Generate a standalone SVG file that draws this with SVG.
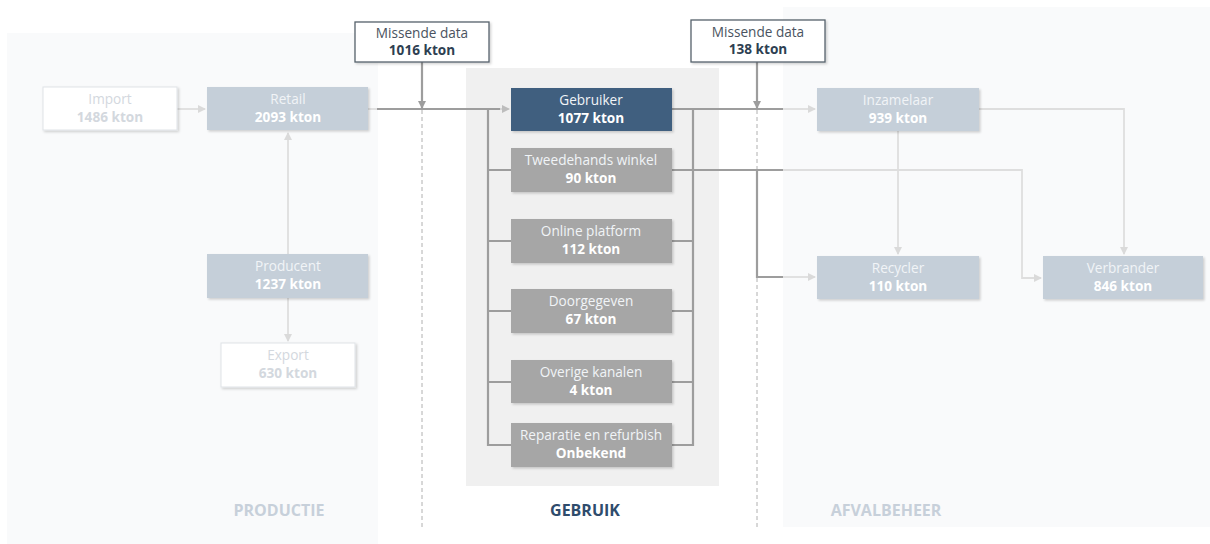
<svg xmlns="http://www.w3.org/2000/svg" width="1210" height="544" viewBox="0 0 1210 544">
<defs>
<style>
text{font-family:"Open Sans","Noto Sans","Liberation Sans",sans-serif;font-size:13.6px;text-anchor:middle}
.b{font-weight:bold}
.lt{fill:#c5cfd9}
.gr{fill:#a6a6a6}
.dk{fill:#3f5f7f}
.wt{fill:#ffffff;stroke:#dfe3e7;stroke-width:1}
.md{fill:#ffffff;stroke:#56616c;stroke-width:1.3}
.tw{fill:#ffffff}
.tl{fill:#f1f4f7}
.ti{fill:#d3d8de}
.c1{fill:none;stroke:#9d9d9d;stroke-width:2.2}
.c2{fill:none;stroke:#dedede;stroke-width:1.8}
.dash{fill:none;stroke:#b0b0b0;stroke-width:1;stroke-dasharray:4 3}
.sec{font-size:16px;font-weight:bold}
</style>
<filter id="sh" x="-5%" y="-10%" width="112%" height="130%">
<feDropShadow dx="1.5" dy="1.5" stdDeviation="1" flood-color="#000" flood-opacity="0.18"/>
</filter>
<marker id="ad" markerWidth="8" markerHeight="8" refX="7" refY="4" orient="auto" markerUnits="userSpaceOnUse">
<path d="M0,0 L8,4 L0,8 z" fill="#9d9d9d"/>
</marker>
<marker id="al" markerWidth="8" markerHeight="8" refX="7" refY="4" orient="auto" markerUnits="userSpaceOnUse">
<path d="M0,0 L8,4 L0,8 z" fill="#dadada"/>
</marker>
<marker id="am" markerWidth="8" markerHeight="8" refX="7" refY="4" orient="auto" markerUnits="userSpaceOnUse">
<path d="M0,0 L8,4 L0,8 z" fill="#bdbdbd"/>
</marker>
</defs>
<rect width="1210" height="544" fill="#ffffff"/>
<g id="panels">
<rect x="7" y="33" width="371" height="511" fill="#f9fafb"/>
<rect x="783" y="7" width="427" height="520" fill="#f9fafb"/>
<rect x="466" y="68" width="253" height="418" fill="#f0f0f0"/>
</g>
<g id="connectors">
<line class="dash" x1="422" y1="110" x2="422" y2="530"/>
<line class="dash" x1="757" y1="110" x2="757" y2="530"/>
<line class="c2" x1="177" y1="109" x2="205" y2="109" marker-end="url(#al)"/>
<line class="c2" x1="288" y1="254" x2="288" y2="133" marker-end="url(#al)"/>
<line class="c2" x1="288" y1="298" x2="288" y2="341" marker-end="url(#al)"/>
<line class="c2" x1="368" y1="109" x2="378" y2="109"/>
<line class="c1" x1="377" y1="109" x2="502" y2="109"/>
<line class="c2" x1="500" y1="109" x2="509" y2="109" marker-end="url(#am)"/>
<line class="c1" x1="422" y1="62" x2="422" y2="108" marker-end="url(#ad)"/>
<path class="c1" d="M488,109 V445 H511 M488,170 H511 M488,241 H511 M488,311 H511 M488,382 H511"/>
<path class="c1" d="M693,109 V445 H672 M672,241 H693 M672,311 H693 M672,382 H693"/>
<line class="c1" x1="672" y1="109" x2="783" y2="109"/>
<line class="c2" x1="783" y1="109" x2="815" y2="109" marker-end="url(#al)"/>
<line class="c1" x1="757" y1="62" x2="757" y2="108" marker-end="url(#ad)"/>
<line class="c1" x1="672" y1="170" x2="783" y2="170"/>
<path class="c1" d="M757,170 V277 H783"/>
<line class="c2" x1="783" y1="277" x2="815" y2="277" marker-end="url(#al)"/>
<path class="c2" d="M783,170 H1022 V278 H1041" marker-end="url(#al)"/>
<line class="c2" x1="898" y1="131" x2="898" y2="254" marker-end="url(#al)"/>
<path class="c2" d="M979,109 H1124 V254" marker-end="url(#al)"/>
</g>
<g id="import">
<rect class="wt" x="43" y="87" width="134" height="43" filter="url(#sh)"/>
<text class="ti" x="110" y="104">Import</text>
<text class="ti b" x="110" y="122">1486 kton</text>
</g>
<g id="retail">
<rect class="lt" x="207" y="87" width="161" height="43" filter="url(#sh)"/>
<text class="tl" x="288" y="104">Retail</text>
<text class="tw b" x="288" y="122">2093 kton</text>
</g>
<g id="producent">
<rect class="lt" x="207" y="254" width="161" height="44" filter="url(#sh)"/>
<text class="tl" x="288" y="271">Producent</text>
<text class="tw b" x="288" y="289">1237 kton</text>
</g>
<g id="export">
<rect class="wt" x="221" y="343" width="134" height="44" filter="url(#sh)"/>
<text class="ti" x="288" y="360">Export</text>
<text class="ti b" x="288" y="378">630 kton</text>
</g>
<g id="missende1">
<rect class="md" x="355" y="22" width="134" height="40" filter="url(#sh)"/>
<text x="422" y="38" fill="#4a5360">Missende data</text>
<text class="b" x="422" y="55" fill="#2e3f52">1016 kton</text>
</g>
<g id="missende2">
<rect class="md" x="691" y="20" width="134" height="42" filter="url(#sh)"/>
<text x="758" y="37" fill="#4a5360">Missende data</text>
<text class="b" x="758" y="54" fill="#2e3f52">138 kton</text>
</g>
<g id="gebruiker">
<rect class="dk" x="511" y="88" width="161" height="43" filter="url(#sh)"/>
<text class="tl" x="591" y="105">Gebruiker</text>
<text class="tw b" x="591" y="123">1077 kton</text>
</g>
<g id="tweedehands">
<rect class="gr" x="511" y="148" width="161" height="44" filter="url(#sh)"/>
<text class="tl" x="591" y="165">Tweedehands winkel</text>
<text class="tw b" x="591" y="183">90 kton</text>
</g>
<g id="online">
<rect class="gr" x="511" y="219" width="161" height="44" filter="url(#sh)"/>
<text class="tl" x="591" y="236">Online platform</text>
<text class="tw b" x="591" y="254">112 kton</text>
</g>
<g id="doorgegeven">
<rect class="gr" x="511" y="289" width="161" height="44" filter="url(#sh)"/>
<text class="tl" x="591" y="306">Doorgegeven</text>
<text class="tw b" x="591" y="324">67 kton</text>
</g>
<g id="overige">
<rect class="gr" x="511" y="360" width="161" height="43" filter="url(#sh)"/>
<text class="tl" x="591" y="377">Overige kanalen</text>
<text class="tw b" x="591" y="395">4 kton</text>
</g>
<g id="reparatie">
<rect class="gr" x="511" y="423" width="161" height="44" filter="url(#sh)"/>
<text class="tl" x="591" y="440">Reparatie en refurbish</text>
<text class="tw b" x="591" y="458">Onbekend</text>
</g>
<g id="inzamelaar">
<rect class="lt" x="817" y="88" width="162" height="43" filter="url(#sh)"/>
<text class="tl" x="898" y="105">Inzamelaar</text>
<text class="tw b" x="898" y="123">939 kton</text>
</g>
<g id="recycler">
<rect class="lt" x="817" y="256" width="162" height="43" filter="url(#sh)"/>
<text class="tl" x="898" y="273">Recycler</text>
<text class="tw b" x="898" y="291">110 kton</text>
</g>
<g id="verbrander">
<rect class="lt" x="1043" y="256" width="160" height="43" filter="url(#sh)"/>
<text class="tl" x="1123" y="273">Verbrander</text>
<text class="tw b" x="1123" y="291">846 kton</text>
</g>
<g id="sections">
<text class="sec" x="279" y="516" fill="#c7d0da">PRODUCTIE</text>
<text class="sec" x="585" y="516" fill="#2f4c6c">GEBRUIK</text>
<text class="sec" x="886" y="516" fill="#c7d0da">AFVALBEHEER</text>
</g>
</svg>
